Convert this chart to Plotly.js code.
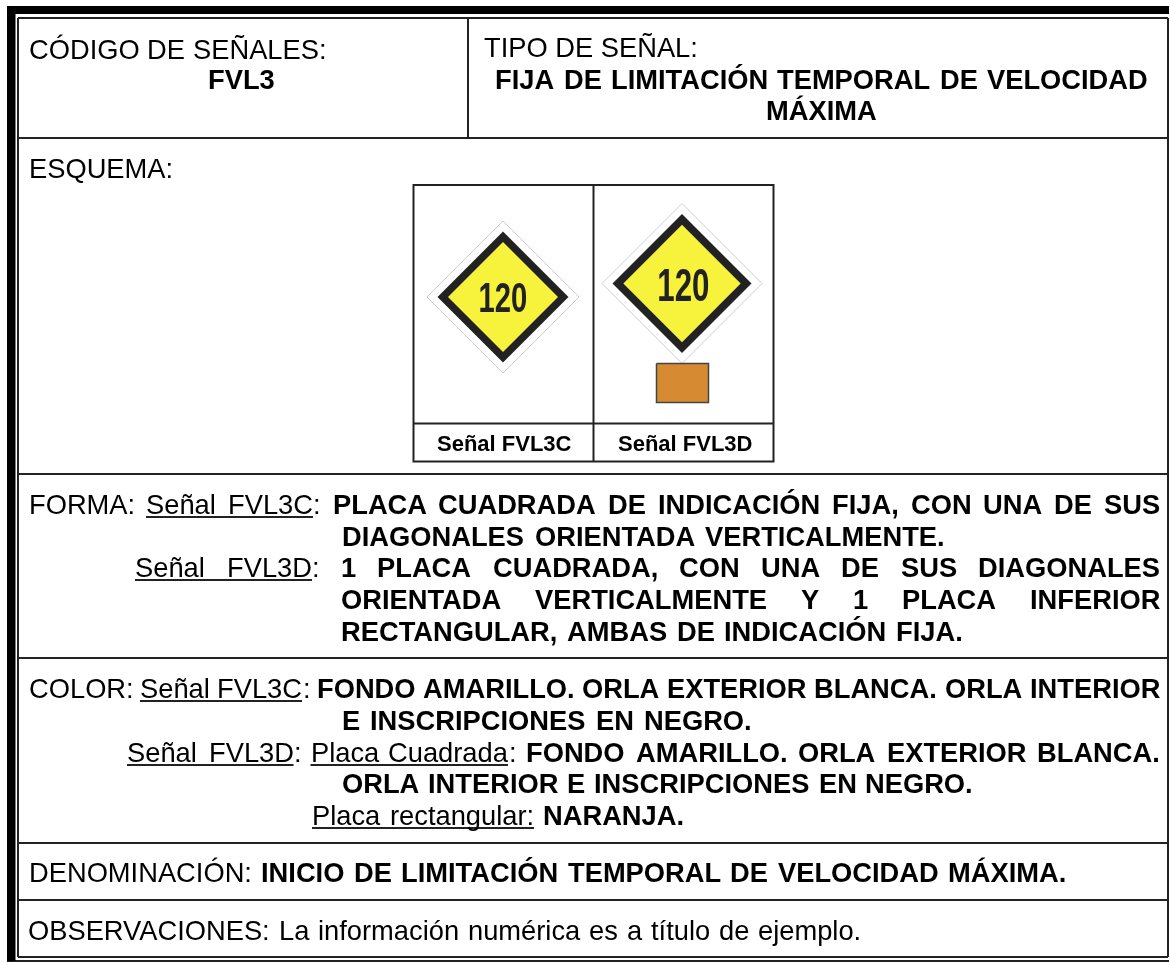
<!DOCTYPE html>
<html><head><meta charset="utf-8">
<script src="https://cdn.plot.ly/plotly-3.0.1.min.js"></script>
<style>html,body{margin:0;padding:0;background:#fff}#c{width:1170px;height:963px;filter:blur(.4px)}</style>
</head><body><div id="c"></div>
<script>
// ---- content ----
const textLines = [
 "CÓDIGO DE SEÑALES:", "FVL3",
 "TIPO DE SEÑAL:", "FIJA DE LIMITACIÓN TEMPORAL DE VELOCIDAD", "MÁXIMA",
 "ESQUEMA:",
 "FORMA:", "Señal FVL3C", ":", "PLACA CUADRADA DE INDICACIÓN FIJA, CON UNA DE SUS",
 "DIAGONALES ORIENTADA VERTICALMENTE.",
 "Señal FVL3D", ":", "1 PLACA CUADRADA, CON UNA DE SUS DIAGONALES",
 "ORIENTADA VERTICALMENTE Y 1 PLACA INFERIOR",
 "RECTANGULAR, AMBAS DE INDICACIÓN FIJA.",
 "COLOR:", "Señal FVL3C", ":", "FONDO AMARILLO. ORLA EXTERIOR BLANCA. ORLA INTERIOR",
 "E INSCRIPCIONES EN NEGRO.",
 "Señal FVL3D", ":", "Placa Cuadrada", ":", "FONDO AMARILLO. ORLA EXTERIOR BLANCA.",
 "ORLA INTERIOR E INSCRIPCIONES EN NEGRO.",
 "Placa rectangular:", "NARANJA.",
 "DENOMINACIÓN:", "INICIO DE LIMITACIÓN TEMPORAL DE VELOCIDAD MÁXIMA.",
 "OBSERVACIONES: La información numérica es a título de ejemplo."
];
const signLabels = ["Señal FVL3C", "Señal FVL3D"];
const signNumbers = ["120", "120"];

// ---- layout: [left x, centre y, right x to spread words to (or 0), style]  style: n normal, b bold, u underlined
const textPlacement = [
 [28.5,49,327,'n'],[208,79,0,'b'],
 [483.5,47,0,'n'],[495,79,1148,'b'],[766,110,0,'b'],
 [28.5,168,0,'n'],
 [28.5,504,0,'n'],[146,504,313,'u'],[313,504,0,'n'],[332.5,504,1160,'b'],
 [342,536,945,'b'],
 [135,567,312,'u'],[312,567,0,'n'],[341,567,1160,'b'],
 [341,599,1160,'b'],
 [341,631,963,'b'],
 [28.5,688,0,'n'],[140,688,302,'u'],[302.5,688,0,'n'],[316.5,688,1160,'b'],
 [342,720,752,'b'],
 [127,752,293.5,'u'],[294,752,0,'n'],[310.5,752,508,'u'],[508.5,752,0,'n'],[526,752,1160,'b'],
 [342,783,973,'b'],
 [312,815,534,'u'],[542.5,815,0,'b'],
 [28.5,872,0,'n'],[261,872,1066,'b'],
 [28,930,861,'n']
];
const FS = 27.3, FAM = '"Liberation Sans", Arial, sans-serif', underlineDrop = 13;

const hRules = [[18,1168,18],[18,1168,138],[18,1168,474],[18,1168,658],[18,1168,843],[18,1168,900],[18,1168,957]];
const vRules = [[18,18,957],[468,18,138],[1168,18,957]];
const frameBands = [[7,6,1169,14],[7,6,15.5,961]];
const outerBottom = [7,961,1169];
const schemaBox = {l:413.5,r:773.5,t:185,b:461.5,mid:593.5,split:423.5};
const signs = [
 {cx:503,cy:297,outer:76,band:65.5,inner:55,nx:503,ny:297,nfs:43},
 {cx:682,cy:283.5,outer:80,band:69.5,inner:58.7,nx:683,ny:285,nfs:46}
];
const numberSqueeze = 0.68;
const plateBox = {l:656.5,r:708.5,t:363.5,b:402.5};
const labelCentres = [504.5,684.5], labelY = 443.5;

// ---- helpers ----
const cv = document.createElement('canvas').getContext('2d');
function width(t,bold){cv.font=(bold?'bold ':'')+FS+'px "Liberation Sans"';return cv.measureText(t).width;}
function ann(t,x,y,o){o=o||{};return {text:t,x:x,y:y,xref:'x',yref:'y',showarrow:false,borderpad:0,borderwidth:0,
 xanchor:o.anchor||'left',yanchor:'middle',align:'left',
 font:{family:FAM,size:o.size||FS,color:o.color||'#000',weight:o.bold?700:400}};}
const line=(x0,y0,x1,y1,w)=>({type:'line',x0,y0,x1,y1,xref:'x',yref:'y',line:{color:'#222',width:w||2}});
const annotations=[], shapes=[];
textLines.forEach((t,i)=>{
 const [x,y,x1,s]=textPlacement[i], bold=s==='b';
 if(s==='u') shapes.push(line(x,y+underlineDrop,x1,y+underlineDrop,2));
 if(x1){
  const words=t.split(' ');
  const total=words.reduce((a,w)=>a+width(w,bold),0);
  const gap=(x1-x-total)/(words.length-1);
  let cur=x;
  words.forEach(w=>{annotations.push(ann(w,cur,y,{bold}));cur+=width(w,bold)+gap;});
 } else annotations.push(ann(t,x,y,{bold}));
});
signLabels.forEach((t,i)=>annotations.push(ann(t,labelCentres[i],labelY,{bold:true,size:22,anchor:'center'})));
const firstNumber=annotations.length;
signs.forEach((s,i)=>annotations.push(ann(signNumbers[i],s.nx,s.ny,{bold:true,size:s.nfs,anchor:'center',color:'#222'})));

hRules.forEach(r=>shapes.push(line(r[0],r[2],r[1],r[2])));
vRules.forEach(r=>shapes.push(line(r[0],r[1],r[0],r[2])));
shapes.push(line(outerBottom[0],outerBottom[1],outerBottom[2],outerBottom[1],2));
frameBands.forEach(b=>shapes.push({type:'rect',x0:b[0],y0:b[1],x1:b[2],y1:b[3],fillcolor:'#000',line:{width:0}}));
const B=schemaBox;
shapes.push({type:'rect',x0:B.l,x1:B.r,y0:B.t,y1:B.b,line:{color:'#222',width:2}});
shapes.push(line(B.mid,B.t,B.mid,B.b));
shapes.push(line(B.l,B.split,B.r,B.split));

function diamond(s,h,fill,lineCol,lw){return {type:'scatter',mode:'lines',
 x:[s.cx,s.cx+h,s.cx,s.cx-h,s.cx],y:[s.cy-h,s.cy,s.cy+h,s.cy,s.cy-h],
 fill:'toself',fillcolor:fill,line:{color:lineCol,width:lw},hoverinfo:'skip',showlegend:false};}
const traces=[];
signs.forEach(s=>{
 traces.push(diamond(s,s.outer,'#ffffff','#cfcfcf',1));
 traces.push(diamond(s,s.band,'#222222','#222222',0));
 traces.push(diamond(s,s.inner,'#F7F33C','#F7F33C',0));
});
const P=plateBox;
traces.push({type:'scatter',mode:'lines',x:[P.l,P.r,P.r,P.l,P.l],y:[P.t,P.t,P.b,P.b,P.t],fill:'toself',
 fillcolor:'#D68B32',line:{color:'#444',width:1.5},hoverinfo:'skip',showlegend:false});

Plotly.newPlot('c',traces,{
 width:1170,height:963,margin:{l:0,r:0,t:0,b:0},
 paper_bgcolor:'#fff',plot_bgcolor:'#fff',showlegend:false,
 xaxis:{range:[0,1170],visible:false,fixedrange:true},
 yaxis:{range:[963,0],visible:false,fixedrange:true},
 shapes,annotations
},{displayModeBar:false,staticPlot:true}).then(gd=>{
 // the numerals on the plates use a condensed bold face: squeeze them horizontally about their centre
 const texts=gd.querySelectorAll('.annotation-text');
 signs.forEach((s,i)=>{
  const el=texts[firstNumber+i]; if(!el) return;
  const b=el.getBBox(), c=b.x+b.width/2;
  el.setAttribute('transform','translate('+c+',0) scale('+numberSqueeze+',1) translate('+(-c)+',0)');
 });
});
</script></body></html>
